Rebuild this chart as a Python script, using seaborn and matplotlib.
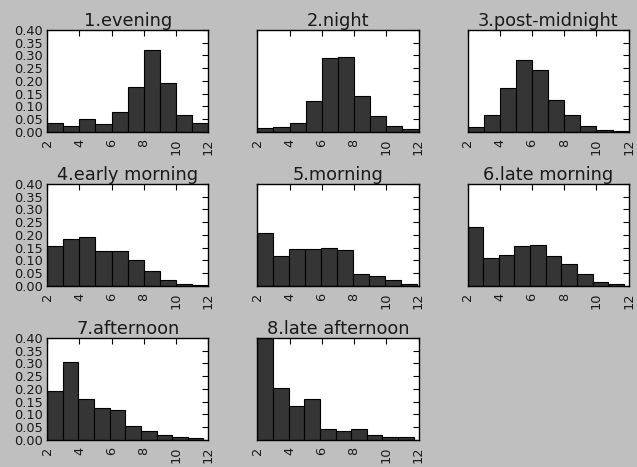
import numpy as np
import pandas as pd
import matplotlib
matplotlib.use("Agg")
import matplotlib.pyplot as plt
import seaborn as sns

titles = ["1.evening", "2.night", "3.post-midnight", "4.early morning",
          "5.morning", "6.late morning", "7.afternoon", "8.late afternoon"]

evening = [0.033, 0.025, 0.050, 0.029, 0.079, 0.176, 0.320, 0.193, 0.068, 0.035]
night = [0.014, 0.021, 0.033, 0.121, 0.288, 0.292, 0.142, 0.061, 0.025, 0.010]
post_midnight = [0.019, 0.065, 0.171, 0.282, 0.243, 0.126, 0.065, 0.022, 0.008, 0.002]
early_morning = [0.156, 0.184, 0.190, 0.137, 0.137, 0.102, 0.060, 0.025, 0.008, 0.002]
morning = [0.208, 0.118, 0.145, 0.145, 0.150, 0.142, 0.047, 0.039, 0.024, 0.007]
late_morning = [0.231, 0.111, 0.123, 0.157, 0.161, 0.118, 0.086, 0.047, 0.016, 0.007]
afternoon = [0.193, 0.306, 0.161, 0.126, 0.119, 0.056, 0.034, 0.019, 0.010, 0.006]
late_afternoon = [0.400, 0.203, 0.134, 0.160, 0.044, 0.035, 0.044, 0.018, 0.010, 0.010]

series = [evening, night, post_midnight, early_morning, morning,
          late_morning, afternoon, late_afternoon]
bin_low = [2, 2, 2, 2, 2, 2, 2, 2]
bin_high = [12, 12, 12, 12, 11.9, 11.7, 11.7, 11.7]

x_ticks = [2, 4, 6, 8, 10, 12]
y_ticks = [0.00, 0.05, 0.10, 0.15, 0.20, 0.25, 0.30, 0.35, 0.40]

sns.set_style("white")
plt.rcParams["font.family"] = ["DejaVu Sans"]

fig, axes = plt.subplots(3, 3, figsize=(6.37, 4.67), dpi=100, facecolor="#bfbfbf")
fig.subplots_adjust(left=0.074, right=0.987, top=0.936, bottom=0.058,
                    wspace=0.304, hspace=0.51)

for i, ax in enumerate(axes.flat):
    if i >= len(series):
        ax.set_visible(False)
        continue
    n = len(series[i])
    width = (bin_high[i] - bin_low[i]) / n
    centers = [bin_low[i] + width * (k + 0.5) for k in range(n)]
    df = pd.DataFrame({"x": centers, "w": series[i]})
    sns.histplot(data=df, x="x", weights="w", bins=n,
                 binrange=(bin_low[i], bin_high[i]), ax=ax,
                 color="#353535", edgecolor="black", linewidth=0.8, alpha=1)
    ax.set_facecolor("white")
    ax.set_xlim(2, 12)
    ax.set_ylim(0, 0.40)
    ax.set_xticks(x_ticks)
    ax.set_xticklabels([str(t) for t in x_ticks], rotation=90)
    ax.set_yticks(y_ticks)
    if i % 3 == 0:
        ax.set_yticklabels([f"{t:.2f}" for t in y_ticks])
    else:
        ax.set_yticklabels([])
    ax.set_xlabel("")
    ax.set_ylabel("")
    ax.set_title(titles[i], fontsize=12.8, pad=3, color="#1a1a1a")
    ax.tick_params(direction="in", top=True, right=True, length=4,
                   width=0.8, labelsize=9.3, color="black", labelcolor="#1a1a1a")
    ax.tick_params(axis="x", pad=5)
    ax.tick_params(axis="y", pad=3)
    for s in ax.spines.values():
        s.set_visible(True)
        s.set_color("black")
        s.set_linewidth(1.0)

fig.savefig("out.png", dpi=100, facecolor=fig.get_facecolor())
